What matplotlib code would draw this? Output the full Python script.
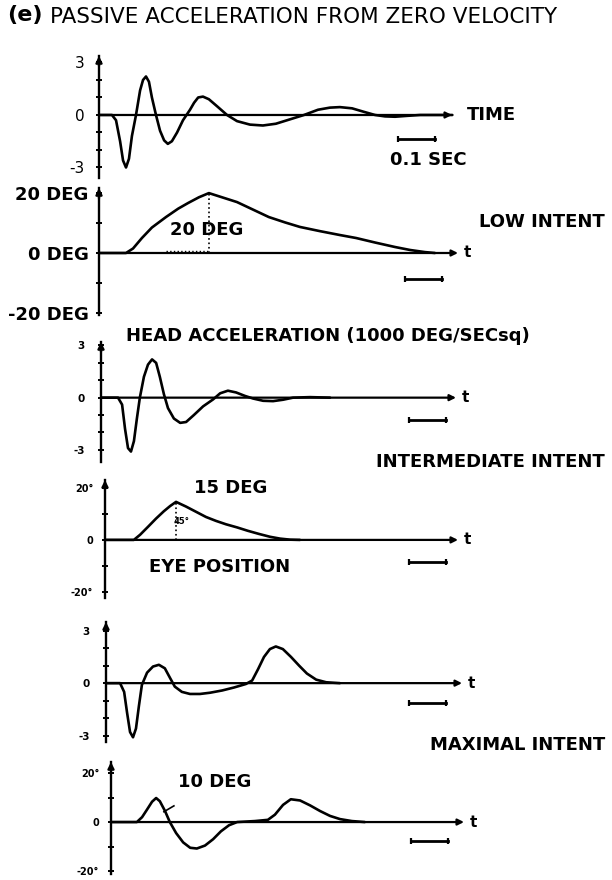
import matplotlib
matplotlib.use('Agg')
import matplotlib.pyplot as plt

W, H = 612, 880
PX_PER_S = 370.0  # 0.1 sec bar is ~37 px

# ---- data (time in s from axis origin) ----
p1_t = [0, 0.035, 0.046, 0.057, 0.065, 0.073, 0.081, 0.089, 0.100, 0.111, 0.119, 0.127, 0.135,
        0.143, 0.154, 0.165, 0.176, 0.186, 0.197, 0.211, 0.227, 0.246, 0.257, 0.268, 0.281, 0.297,
        0.319, 0.346, 0.373, 0.408, 0.443, 0.478, 0.516, 0.554, 0.592, 0.624, 0.651, 0.684, 0.716,
        0.746, 0.773, 0.800, 0.832, 0.868, 0.955]
p1_v = [0, 0, -0.3, -1.5, -2.6, -3.0, -2.5, -1.2, 0, 1.4, 2.0, 2.2, 1.9,
        1.0, 0, -0.9, -1.45, -1.65, -1.5, -1.0, -0.3, 0.3, 0.7, 1.0, 1.05, 0.9,
        0.5, 0, -0.35, -0.55, -0.6, -0.5, -0.25, 0, 0.3, 0.42, 0.45, 0.38, 0.18,
        0, -0.08, -0.1, -0.05, 0, 0]

p2_t = [0, 0.073, 0.092, 0.116, 0.143, 0.181, 0.214, 0.241, 0.270, 0.297, 0.335, 0.373, 0.416,
        0.459, 0.503, 0.543, 0.597, 0.651, 0.695, 0.746, 0.800, 0.841, 0.881, 0.908]
p2_v = [0, 0, 1.5, 5, 8.5, 12, 14.8, 16.7, 18.6, 20, 18.5, 17, 14.5,
        12, 10.2, 8.7, 7.3, 6, 5, 3.5, 2, 1.0, 0.3, 0]

p3_t = [0, 0.046, 0.057, 0.065, 0.073, 0.081, 0.089, 0.097, 0.105, 0.116, 0.127, 0.138, 0.149,
        0.159, 0.170, 0.181, 0.197, 0.214, 0.230, 0.251, 0.276, 0.303, 0.322, 0.343, 0.365, 0.389,
        0.411, 0.438, 0.465, 0.492, 0.519, 0.565, 0.619]
p3_v = [0, 0, -0.4, -1.8, -2.9, -3.1, -2.5, -1.2, 0, 1.2, 1.9, 2.2, 2.0,
        1.2, 0.2, -0.6, -1.2, -1.45, -1.4, -1.0, -0.5, -0.1, 0.25, 0.4, 0.3, 0.1,
        -0.05, -0.18, -0.2, -0.12, 0, 0.03, 0]

p4_t = [0, 0.078, 0.095, 0.116, 0.138, 0.159, 0.176, 0.192, 0.219, 0.246, 0.273, 0.300, 0.327,
        0.357, 0.386, 0.416, 0.446, 0.473, 0.500, 0.527]
p4_v = [0, 0, 2, 5, 8.2, 11, 13, 14.6, 12.8, 10.8, 8.8, 7.3, 6,
        4.8, 3.5, 2.3, 1.2, 0.5, 0.1, 0]

p5_t = [0, 0.038, 0.049, 0.057, 0.065, 0.073, 0.081, 0.089, 0.097, 0.111, 0.127, 0.143, 0.159,
        0.173, 0.186, 0.205, 0.227, 0.254, 0.281, 0.314, 0.346, 0.378, 0.395, 0.411, 0.427, 0.443,
        0.459, 0.478, 0.500, 0.522, 0.543, 0.568, 0.595, 0.632]
p5_v = [0, 0, -0.5, -1.7, -2.8, -3.1, -2.6, -1.3, -0.1, 0.6, 0.95, 1.05, 0.85,
        0.3, -0.2, -0.5, -0.62, -0.62, -0.55, -0.42, -0.25, -0.05, 0.15, 0.8, 1.5, 1.95,
        2.1, 1.95, 1.5, 1.0, 0.55, 0.2, 0.05, 0]

p6_t = [0, 0.070, 0.084, 0.097, 0.111, 0.122, 0.132, 0.146, 0.159, 0.176, 0.195, 0.214, 0.232,
        0.254, 0.276, 0.297, 0.319, 0.341, 0.389, 0.424, 0.443, 0.465, 0.486, 0.511, 0.538, 0.565,
        0.592, 0.619, 0.651, 0.686]
p6_v = [0, 0, 2, 5, 8.3, 9.8, 8.5, 4.5, 0, -4.5, -8.3, -10.5, -10.8,
        -9.6, -7, -3.8, -1.3, 0, 0.4, 0.9, 3, 7, 9.3, 8.8, 6.8, 4.5,
        2.5, 1.2, 0.4, 0]

# ---- layout: axis origin x, arrow end x, top y, bottom y (px), ylim ----
panels = [
    dict(t=p1_t, v=p1_v, x0=99, x1=452, top=56, bot=178, ylim=(-3.6, 3.37),
         major=[3, 0, -3], labels=['3', '0', '-3'], minor=[2, 1, -1, -2], lab_size=11, lab_w='normal',
         pad=8, bar=(0.808, -1.4), end='TIME'),
    dict(t=p2_t, v=p2_v, x0=99, x1=458, top=188, bot=315, ylim=(-20.7, 21.7),
         major=[20, 0, -20], labels=['20 DEG', '0 DEG', '-20 DEG'], minor=[10, -10], lab_size=13,
         lab_w='bold', pad=5, bar=(0.827, -8.7), end='t'),
    dict(t=p3_t, v=p3_v, x0=101, x1=456, top=342, bot=462, ylim=(-3.7, 3.2),
         major=[3, 0, -3], labels=['3', '0', '-3'], minor=[2, 1, -1, -2], lab_size=7.5, lab_w='bold',
         pad=9, bar=(0.832, -1.3), end='t'),
    dict(t=p4_t, v=p4_v, x0=105, x1=458, top=480, bot=598, ylim=(-22.3, 23),
         major=[20, 0, -20], labels=['20°', '0', '-20°'], minor=[10, -10], lab_size=7, lab_w='bold',
         pad=6, bar=(0.822, -8.5), end='t'),
    dict(t=p5_t, v=p5_v, x0=106, x1=462, top=622, bot=742, ylim=(-3.37, 3.5),
         major=[3, 0, -3], labels=['3', '0', '-3'], minor=[2, 1, -1, -2], lab_size=7.5, lab_w='bold',
         pad=9, bar=(0.819, -1.15), end='t'),
    dict(t=p6_t, v=p6_v, x0=111, x1=464, top=762, bot=874, ylim=(-21.2, 24.5),
         major=[20, 0, -20], labels=['20°', '0', '-20°'], minor=[10, -10], lab_size=7, lab_w='bold',
         pad=6, bar=(0.811, -7.8), end='t'),
]

plt.rcParams['font.family'] = ['DejaVu Sans']

fig = plt.figure(figsize=(W / 100, H / 100), dpi=100)


def fx(x):
    return x / W


def fy(y):
    return 1 - y / H


axes = []
for p in panels:
    tmax = (p['x1'] - p['x0']) / PX_PER_S
    ax = fig.add_axes([fx(p['x0']), fy(p['bot']), (p['x1'] - p['x0']) / W, (p['bot'] - p['top']) / H])
    ax.set_xlim(0, tmax)
    ax.set_ylim(*p['ylim'])
    for s in ['top', 'right', 'bottom']:
        ax.spines[s].set_visible(False)
    ax.spines['left'].set_linewidth(1.7)
    ax.set_xticks([])
    ax.set_yticks(p['major'])
    ax.set_yticklabels(p['labels'], fontsize=p['lab_size'], fontweight=p['lab_w'])
    ax.set_yticks(p['minor'], minor=True)
    ax.tick_params(axis='y', which='both', direction='inout', length=5, width=1.4, pad=p['pad'])
    ax.patch.set_alpha(0)
    # x axis with arrow
    ax.annotate('', xy=(tmax, 0), xytext=(0, 0),
                arrowprops=dict(arrowstyle='-|>', lw=1.6, color='black', mutation_scale=9,
                                shrinkA=0, shrinkB=0), annotation_clip=False)
    # y axis arrow head
    ylo, yhi = p['ylim']
    ax.annotate('', xy=(0, yhi), xytext=(0, yhi - (yhi - ylo) * 0.08),
                arrowprops=dict(arrowstyle='-|>', lw=1.7, color='black', mutation_scale=9,
                                shrinkA=0, shrinkB=0), annotation_clip=False)
    ax.plot(p['t'], p['v'], color='black', lw=1.9, solid_capstyle='round', solid_joinstyle='round',
            clip_on=False)
    # 0.1 s scale bar
    b0, by = p['bar']
    ax.plot([b0, b0 + 0.1], [by, by], color='black', lw=2, marker='|', markersize=5,
            markeredgewidth=1.6, clip_on=False)
    # label at the arrow end of the time axis
    big = p['end'] == 'TIME'
    ax.annotate(p['end'], xy=(tmax, 0), xytext=(15 if big else 6, 0), textcoords='offset pixels',
                fontsize=13 if big else 11, fontweight='bold', va='center', ha='left',
                annotation_clip=False)
    axes.append(ax)

ax1, ax2, ax3, ax4, ax5, ax6 = axes

# peak markers and annotations
ax2.plot([p2_t[9], p2_t[9]], [0, p2_v[9]], color='black', lw=1.2, ls=':')
ax2.plot([p2_t[5], p2_t[9]], [0.8, 0.8], color='black', lw=1.0, ls=':')
ax2.text(0.192, 7.7, '20 DEG', fontsize=13, fontweight='bold', va='center')
ax4.plot([p4_t[7], p4_t[7]], [0, p4_v[7]], color='black', lw=1.2, ls=':')
ax4.text(0.186, 7.0, '45°', fontsize=6, fontweight='bold', va='center')
ax4.text(0.24, 20, '15 DEG', fontsize=13, fontweight='bold', va='center')
ax6.plot([0.143, 0.170], [4.2, 6.6], color='black', lw=1.2)
ax6.text(0.181, 16.5, '10 DEG', fontsize=13, fontweight='bold', va='center')

# figure texts
fig.text(fx(7), fy(15), '(e)', fontsize=16, fontweight='bold', va='center')
fig.text(fx(50), fy(17), 'PASSIVE ACCELERATION FROM ZERO VELOCITY', fontsize=15.5, va='center')
fig.text(fx(390), fy(160), '0.1 SEC', fontsize=13, fontweight='bold', va='center')
fig.text(fx(605), fy(222), 'LOW INTENT', fontsize=13, fontweight='bold', va='center', ha='right')
fig.text(fx(126), fy(336), 'HEAD ACCELERATION (1000 DEG/SECsq)', fontsize=13, fontweight='bold',
         va='center')
fig.text(fx(605), fy(462), 'INTERMEDIATE INTENT', fontsize=13, fontweight='bold', va='center',
         ha='right')
fig.text(fx(149), fy(567), 'EYE POSITION', fontsize=13, fontweight='bold', va='center')
fig.text(fx(605), fy(745), 'MAXIMAL INTENT', fontsize=13, fontweight='bold', va='center', ha='right')

fig.savefig('out.png', dpi=100, facecolor='white')
